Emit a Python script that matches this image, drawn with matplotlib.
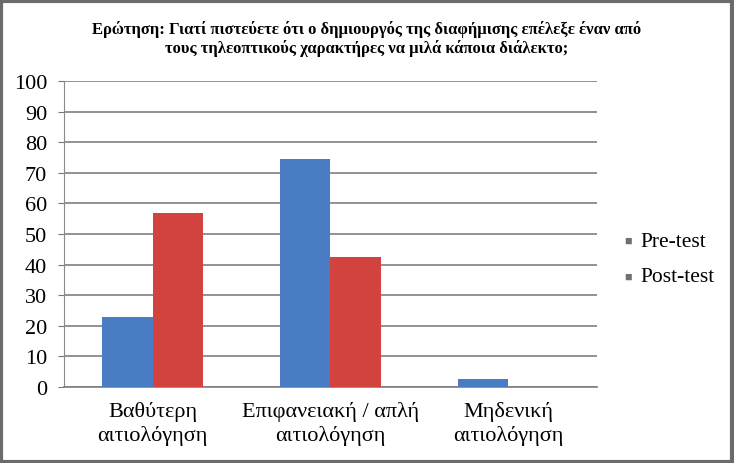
import numpy as np
import matplotlib.pyplot as plt
from matplotlib.patches import Rectangle

categories = ["Βαθύτερη\nαιτιολόγηση", "Επιφανειακή / απλή\nαιτιολόγηση", "Μηδενική\nαιτιολόγηση"]
pre_test = [23, 74.5, 2.5]
post_test = [57, 42.5, 0]
yticks = [0, 10, 20, 30, 40, 50, 60, 70, 80, 90, 100]
title = ("Ερώτηση: Γιατί πιστεύετε ότι ο δημιουργός της διαφήμισης επέλεξε έναν από\n"
         "τους τηλεοπτικούς χαρακτήρες να μιλά κάποια διάλεκτο;")

plt.rcParams['font.family'] = ['Liberation Serif', 'DejaVu Serif']

fig = plt.figure(figsize=(7.34, 4.64), dpi=100)
ax = fig.add_axes([0.087, 0.164, 0.726, 0.659])

x = np.arange(len(categories))
w = 0.283
ax.bar(x - w / 2, pre_test, w, color='#4a7cc4', label='Pre-test', zorder=3)
ax.bar(x + w / 2, post_test, w, color='#d2433f', label='Post-test', zorder=3)

ax.set_xlim(-0.5, 2.5)
ax.set_ylim(0, 100)
ax.set_yticks(yticks)
ax.set_xticks(x)
ax.set_xticklabels(categories, fontsize=16, linespacing=1.25)
ax.tick_params(axis='y', labelsize=16, length=4, color='#777777', pad=8)
ax.tick_params(axis='x', length=0, pad=10)
ax.grid(axis='y', color='#7f7f7f', linewidth=1.2, zorder=0)
for s in ['top', 'right']:
    ax.spines[s].set_visible(False)
ax.spines['left'].set_color('#8a8a8a')
ax.spines['bottom'].set_color('#7f7f7f')
ax.spines['bottom'].set_linewidth(1.2)

fig.text(0.5, 0.915, title, ha='center', va='center', fontsize=12,
         fontweight='bold', linespacing=1.15)

# legend with small grey squares
fig.text(0.856, 0.478, '■', color='#707070', fontsize=9, ha='center', va='center')
fig.text(0.872, 0.478, 'Pre-test', fontsize=15.5, ha='left', va='center')
fig.text(0.856, 0.401, '■', color='#707070', fontsize=9, ha='center', va='center')
fig.text(0.872, 0.401, 'Post-test', fontsize=15.5, ha='left', va='center')

# outer frame
fig.patches.append(Rectangle((0.002, 0.003), 0.995, 0.993, transform=fig.transFigure,
                             fill=False, edgecolor='#6b6b6b', linewidth=3))

fig.savefig('out.png', dpi=100)
